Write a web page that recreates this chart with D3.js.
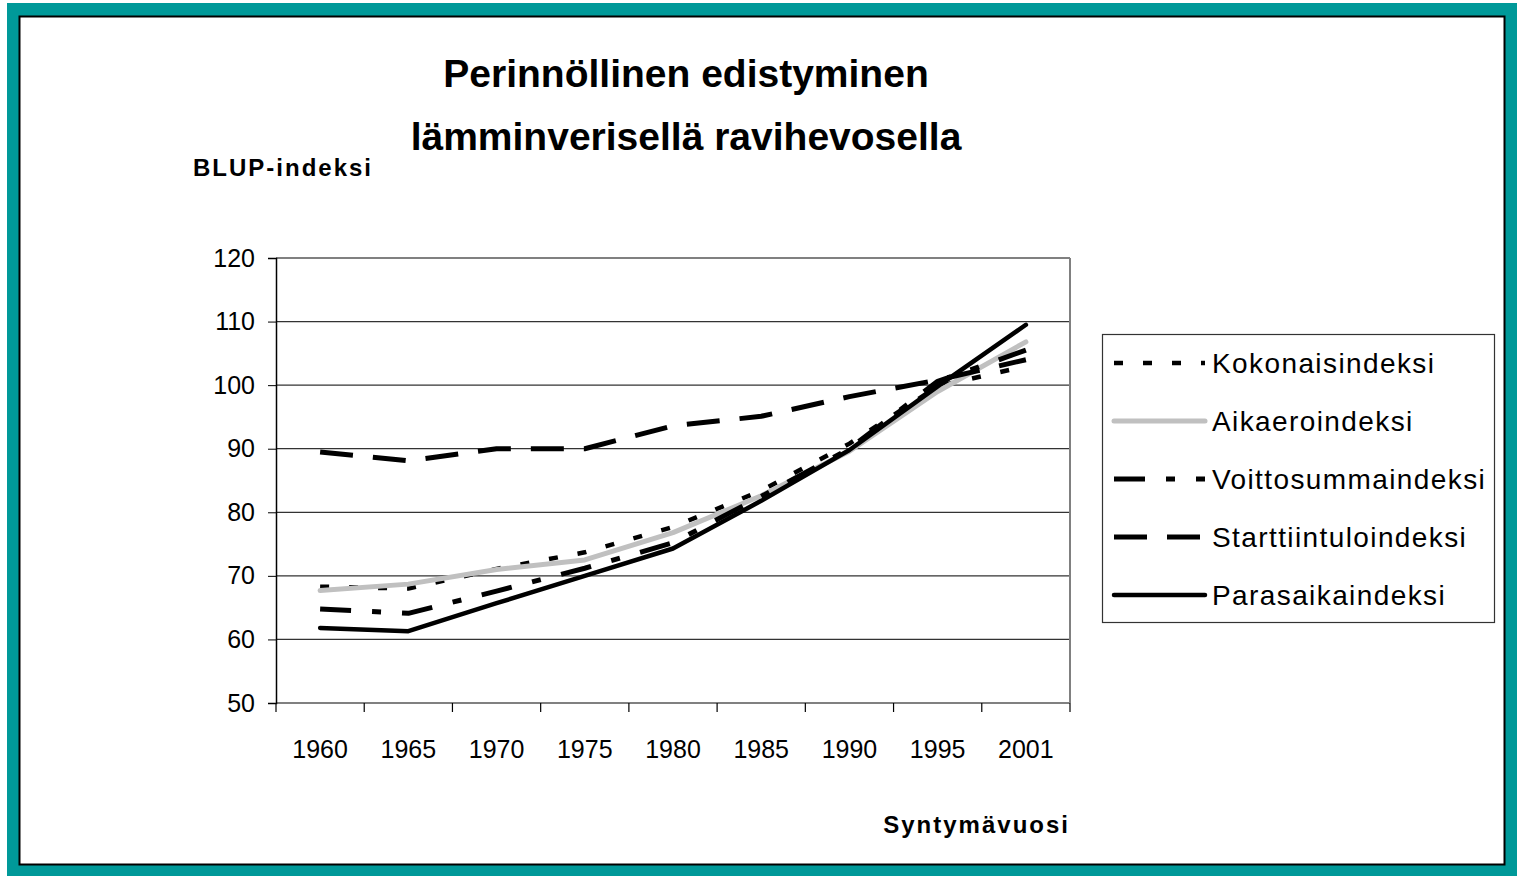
<!DOCTYPE html>
<meta charset="utf-8">
<style type="text/css">

body {
  margin: 0;
  background: #fff;
}

svg {
  font-family: "Liberation Sans", Arial, Helvetica, sans-serif;
  display: block;
}

.series {
  fill: none;
  stroke-linejoin: round;
}

</style>
<body>

<div id="svgContainer"></div>

<script src="https://cdnjs.cloudflare.com/ajax/libs/d3/7.8.5/d3.min.js"></script>
<script>
var width = 1517,
    height = 876;

// Chart data
var years = ['1960', '1965', '1970', '1975', '1980', '1985', '1990', '1995', '2001'];
var yTicks = [50, 60, 70, 80, 90, 100, 110, 120];

var kokonaisindeksi = [68.3, 68.0, 71.1, 73.7, 77.7, 83.4, 90.8, 99.8, 103.0];
var aikaeroindeksi = [67.7, 68.7, 71.0, 72.5, 76.8, 82.6, 89.6, 99.0, 106.8];
var voittosummaindeksi = [64.8, 64.1, 67.6, 71.2, 75.2, 82.5, 90.0, 100.6, 105.5];
var starttiintuloindeksi = [89.5, 88.1, 90.0, 90.0, 93.6, 95.1, 98.2, 100.8, 104.0];
var parasaikaindeksi = [61.8, 61.3, 65.7, 70.0, 74.3, 81.8, 89.8, 99.8, 109.5];

var seriesNames = ['Kokonaisindeksi', 'Aikaeroindeksi', 'Voittosummaindeksi', 'Starttiintuloindeksi', 'Parasaikaindeksi'];
var seriesValues = [kokonaisindeksi, aikaeroindeksi, voittosummaindeksi, starttiintuloindeksi, parasaikaindeksi];

var seriesStyle = [
  {'stroke': '#000', 'width': 4.5, 'dash': '9,20', 'cap': 'butt'},
  {'stroke': '#c0c0c0', 'width': 5, 'dash': null, 'cap': 'round'},
  {'stroke': '#000', 'width': 5, 'dash': '31,21,9,21', 'cap': 'butt'},
  {'stroke': '#000', 'width': 5, 'dash': '33,20', 'cap': 'butt'},
  {'stroke': '#000', 'width': 4.5, 'dash': null, 'cap': 'round'}
];

var plot = {left: 276, right: 1070, top: 258, bottom: 703};

var svg = d3.select('#svgContainer').append('svg')
    .attr('width', width)
    .attr('height', height);

// Teal frame and white card
svg.append('rect')
    .attr('x', 7).attr('y', 3)
    .attr('width', width - 7).attr('height', height - 3)
    .attr('fill', '#009999');

svg.append('rect')
    .attr('x', 19.5).attr('y', 16.5)
    .attr('width', 1485).attr('height', 848)
    .attr('fill', '#fff')
    .attr('stroke', '#000')
    .attr('stroke-width', 2);

var x = d3.scaleBand()
    .domain(years)
    .range([plot.left, plot.right])
    .padding(0);

var y = d3.scaleLinear()
    .domain([50, 120])
    .range([plot.bottom, plot.top]);

// Gridlines
svg.append('g')
  .selectAll('line')
    .data(yTicks)
  .enter()
    .append('line')
      .attr('x1', plot.left)
      .attr('x2', plot.right)
      .attr('y1', function(d) { return y(d); })
      .attr('y2', function(d) { return y(d); })
      .attr('stroke', function(d) { return d === 50 || d === 120 ? '#808080' : '#333'; })
      .attr('stroke-width', function(d) { return d === 50 || d === 120 ? 2 : 1.2; });

// Right border of plot
svg.append('line')
    .attr('x1', plot.right).attr('x2', plot.right)
    .attr('y1', plot.top).attr('y2', plot.bottom)
    .attr('stroke', '#808080')
    .attr('stroke-width', 2);

// Y axis
var yAxis = svg.append('g')
    .attr('transform', 'translate(' + plot.left + ',0)')
    .call(d3.axisLeft(y).tickValues(yTicks).tickSize(8).tickPadding(13));

yAxis.select('.domain').attr('stroke', '#000').attr('stroke-width', 1.5);
yAxis.selectAll('.tick line').attr('stroke', '#000');
yAxis.selectAll('.tick text')
    .attr('font-size', 25)
    .attr('font-family', '"Liberation Sans", Arial, sans-serif')
    .attr('fill', '#000');

// X axis: ticks between categories
var xEdges = years.map(function(d) { return x(d); }).concat([plot.right]);

svg.append('g')
  .selectAll('line')
    .data(xEdges)
  .enter()
    .append('line')
      .attr('x1', function(d) { return d; })
      .attr('x2', function(d) { return d; })
      .attr('y1', plot.bottom)
      .attr('y2', plot.bottom + 9)
      .attr('stroke', '#000')
      .attr('stroke-width', 1.2);

svg.append('g')
  .selectAll('text')
    .data(years)
  .enter()
    .append('text')
      .attr('x', function(d) { return x(d) + x.bandwidth() / 2; })
      .attr('y', plot.bottom + 55)
      .attr('text-anchor', 'middle')
      .attr('font-size', 25)
      .text(function(d) { return d; });

// Series lines
var line = d3.line()
    .x(function(d, i) { return x(years[i]) + x.bandwidth() / 2; })
    .y(function(d) { return y(d); });

svg.append('g')
  .selectAll('path')
    .data(seriesValues)
  .enter()
    .append('path')
      .attr('class', 'series')
      .attr('d', line)
      .attr('stroke', function(d, i) { return seriesStyle[i].stroke; })
      .attr('stroke-width', function(d, i) { return seriesStyle[i].width; })
      .attr('stroke-dasharray', function(d, i) { return seriesStyle[i].dash; })
      .attr('stroke-linecap', function(d, i) { return seriesStyle[i].cap; });

// Legend
var legend = svg.append('g');

legend.append('rect')
    .attr('x', 1102.5).attr('y', 334.5)
    .attr('width', 392).attr('height', 288)
    .attr('fill', '#fff')
    .attr('stroke', '#333')
    .attr('stroke-width', 1.2);

var items = legend.selectAll('g.item')
    .data(seriesNames)
  .enter()
    .append('g')
      .attr('class', 'item')
      .attr('transform', function(d, i) { return 'translate(0,' + (363 + i * 58) + ')'; });

items.append('line')
    .attr('x1', 1114)
    .attr('x2', 1205)
    .attr('stroke', function(d, i) { return seriesStyle[i].stroke; })
    .attr('stroke-width', function(d, i) { return seriesStyle[i].width; })
    .attr('stroke-dasharray', function(d, i) { return seriesStyle[i].dash; })
    .attr('stroke-linecap', function(d, i) { return seriesStyle[i].cap; });

items.append('text')
    .attr('x', 1212)
    .attr('y', 10)
    .attr('font-size', 28)
    .attr('letter-spacing', 1.4)
    .text(function(d) { return d; });

// Titles
svg.append('text')
    .attr('x', 686)
    .attr('y', 87)
    .attr('text-anchor', 'middle')
    .attr('font-size', 39)
    .attr('font-weight', 'bold')
    .text('Perinnöllinen edistyminen');

svg.append('text')
    .attr('x', 686)
    .attr('y', 150)
    .attr('text-anchor', 'middle')
    .attr('font-size', 39)
    .attr('font-weight', 'bold')
    .text('lämminverisellä ravihevosella');

svg.append('text')
    .attr('x', 193)
    .attr('y', 176)
    .attr('font-size', 24)
    .attr('font-weight', 'bold')
    .attr('letter-spacing', 2)
    .text('BLUP-indeksi');

svg.append('text')
    .attr('x', 1070)
    .attr('y', 833)
    .attr('text-anchor', 'end')
    .attr('font-size', 24)
    .attr('font-weight', 'bold')
    .attr('letter-spacing', 2)
    .text('Syntymävuosi');
</script>
